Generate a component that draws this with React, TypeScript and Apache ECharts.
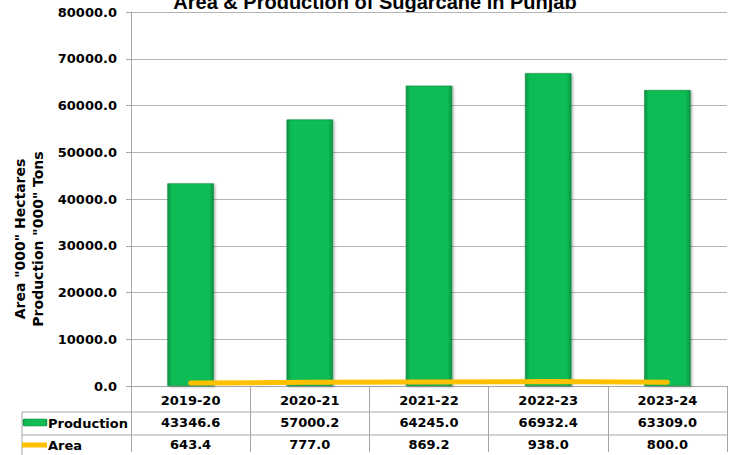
import React, { useEffect, useRef } from "react";
import * as echarts from "echarts";

const categories = ["2019-20", "2020-21", "2021-22", "2022-23", "2023-24"];
const production = [43346.6, 57000.2, 64245.0, 66932.4, 63309.0];
const area = [643.4, 777.0, 869.2, 938.0, 800.0];
const yTicks = { min: 0, max: 80000, interval: 10000 };
const titleText = "Area & Production of Sugarcane in Punjab";
const yName1 = 'Area "000" Hectares';
const yName2 = 'Production "000" Tons';

const W = 732;
const H = 455;
const GL = 131;
const GR = 5;
const GT = 12;
const GB = 66;
const AX_Y = H - GB; // 389
const ROW1 = 412;
const ROW2 = 435;
const TABLE_L = 22;
const FONT = "'DejaVu Sans', Verdana, sans-serif";
const LINE = "#a6a6a6";

export default function App() {
  const ref = useRef<HTMLDivElement>(null);
  useEffect(() => {
    if (!ref.current) return;
    const chart = echarts.init(ref.current, null, { renderer: "svg", width: W, height: H });
    const barGradient = new echarts.graphic.LinearGradient(0, 0, 1, 0, [
      { offset: 0, color: "#0b9444" },
      { offset: 0.1, color: "#11bc54" },
      { offset: 0.9, color: "#11bc54" },
      { offset: 1, color: "#0b9444" },
    ]);
    chart.setOption({
      animation: false,
      backgroundColor: "#ffffff",
      grid: { left: GL, right: GR, top: GT, bottom: GB, containLabel: false },
      xAxis: {
        type: "category",
        data: categories,
        boundaryGap: true,
        axisLine: { show: true, lineStyle: { color: LINE, width: 1 } },
        axisTick: { show: true, alignWithLabel: false, length: H - AX_Y, lineStyle: { color: LINE } },
        axisLabel: {
          interval: 0,
          margin: 3,
          formatter: (v: string, i: number) =>
            `{a|${v}}\n{b|${production[i].toFixed(1)}}\n{c|${area[i].toFixed(1)}}`,
          rich: {
            a: { fontFamily: FONT, fontWeight: "bold", fontSize: 13, color: "#000", lineHeight: 22, height: 22 },
            b: { fontFamily: FONT, fontWeight: "bold", fontSize: 13, color: "#000", lineHeight: 23, height: 23 },
            c: { fontFamily: FONT, fontWeight: "bold", fontSize: 13, color: "#000", lineHeight: 21, height: 21 },
          },
        },
        splitLine: { show: false },
      },
      yAxis: {
        type: "value",
        min: yTicks.min,
        max: yTicks.max,
        interval: yTicks.interval,
        axisLine: { show: true, lineStyle: { color: LINE, width: 1 } },
        axisTick: { show: true, length: 5, lineStyle: { color: LINE } },
        axisLabel: {
          margin: 14,
          formatter: (v: number) => v.toFixed(1),
          fontFamily: FONT,
          fontWeight: "bold",
          fontSize: 13,
          color: "#000",
        },
        splitLine: { show: true, lineStyle: { color: "#b4b4b4", width: 1 } },
      },
      series: [
        {
          name: "Production",
          type: "bar",
          data: production,
          barWidth: "39%",
          itemStyle: {
            color: barGradient,
            borderColor: "#0a8a3e",
            borderWidth: 0.6,
            shadowColor: "rgba(0,0,0,0.3)",
            shadowBlur: 2,
            shadowOffsetX: 1.5,
            shadowOffsetY: 1,
          },
          z: 2,
        },
        {
          name: "Area",
          type: "line",
          data: area,
          symbol: "none",
          lineStyle: { color: "#ffc000", width: 5, cap: "round" },
          z: 3,
        },
      ],
      graphic: [
        {
          type: "text",
          x: 375,
          y: 12,
          style: {
            text: titleText,
            font: "bold 20px 'Liberation Sans', Arial, sans-serif",
            fill: "#000",
            align: "center",
            verticalAlign: "bottom",
          },
        },
        {
          type: "text",
          x: 29,
          y: 239,
          rotation: Math.PI / 2,
          style: {
            text: yName1 + "\n" + yName2,
            font: `bold 14px ${FONT}`,
            fill: "#000",
            align: "center",
            verticalAlign: "middle",
            lineHeight: 18,
          },
        },
        { type: "line", shape: { x1: TABLE_L, y1: ROW1, x2: W - GR, y2: ROW1 }, style: { stroke: LINE, lineWidth: 1 } },
        { type: "line", shape: { x1: TABLE_L, y1: ROW2, x2: W - GR, y2: ROW2 }, style: { stroke: LINE, lineWidth: 1 } },
        { type: "line", shape: { x1: TABLE_L, y1: ROW1, x2: TABLE_L, y2: H }, style: { stroke: LINE, lineWidth: 1 } },
        {
          type: "rect",
          shape: { x: 23, y: 419, width: 24, height: 7, r: 1 },
          style: { fill: barGradient, stroke: "#0a8a3e", lineWidth: 0.5 },
        },
        {
          type: "line",
          shape: { x1: 22, y1: 445, x2: 47, y2: 445 },
          style: { stroke: "#ffc000", lineWidth: 5 },
        },
        {
          type: "text",
          x: 48,
          y: 423,
          style: { text: "Production", font: `bold 13px ${FONT}`, fill: "#000", verticalAlign: "middle" },
        },
        {
          type: "text",
          x: 48,
          y: 445,
          style: { text: "Area", font: `bold 13px ${FONT}`, fill: "#000", verticalAlign: "middle" },
        },
      ],
    });
    return () => chart.dispose();
  }, []);
  return <div ref={ref} style={{ position: "fixed", left: 0, top: 0, width: W, height: H }} />;
}
